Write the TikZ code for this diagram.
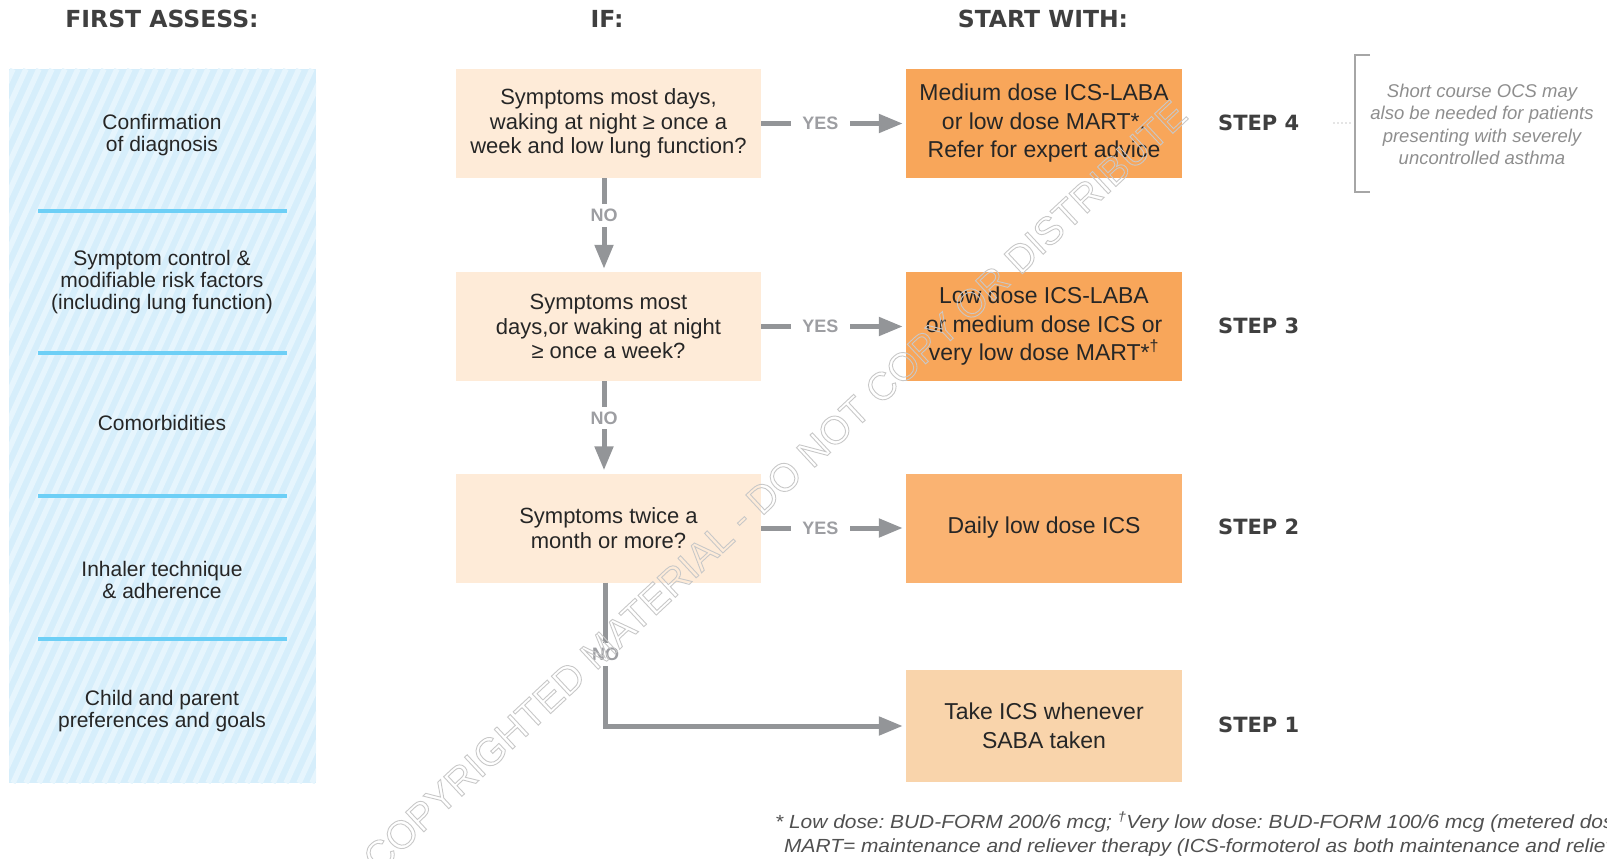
\documentclass[tikz,border=0pt]{standalone}
\usepackage{fontspec}
\setmainfont{Liberation Sans}
\newfontfamily\hdrfont{DejaVu Sans}
\newfontfamily\footfont[FakeStretch=1.1]{Liberation Sans}
\usetikzlibrary{arrows.meta}
\definecolor{qfill}{HTML}{FEEBD8}
\definecolor{sfourfill}{HTML}{F8A65A}
\definecolor{stwofill}{HTML}{FAB372}
\definecolor{sonefill}{HTML}{F9D4AB}
\definecolor{panelbg}{HTML}{D6EEFB}
\definecolor{panelstripe}{HTML}{E6F5FD}
\definecolor{sepblue}{HTML}{6DCFF6}
\definecolor{conngray}{HTML}{939598}
\definecolor{lblgray}{HTML}{9D9EA2}
\definecolor{txt}{HTML}{262626}
\definecolor{hdr}{HTML}{3F3F3F}
\definecolor{notegray}{HTML}{8E8E8E}
\definecolor{footgray}{HTML}{505050}
\definecolor{wmgray}{HTML}{C8C8C8}
\begin{document}
\frenchspacing
\begin{tikzpicture}[x=1pt,y=-1pt,
  header/.style={text=hdr, font=\hdrfont\bfseries\fontsize{23.5}{24}\selectfont, inner sep=0pt},
  steplbl/.style={text=hdr, font=\hdrfont\bfseries\fontsize{21}{22}\selectfont, inner sep=0pt, anchor=west},
  assess/.style={text=txt, align=center, font=\fontsize{21}{22}\selectfont, inner sep=0pt},
  qbox/.style={fill=qfill, text=txt, minimum width=305pt, minimum height=109pt, align=center, inner sep=0pt, font=\fontsize{22}{24.5}\selectfont},
  sbox/.style={text=txt, minimum width=276pt, minimum height=109pt, align=center, inner sep=0pt, font=\fontsize{23}{28.5}\selectfont},
  sep/.style={draw=sepblue, line width=4pt},
  conn/.style={draw=conngray, line width=5pt, -{Triangle[length=24pt,width=18pt]}, shorten >=3pt},
  yn/.style={fill=white, text=lblgray, font=\bfseries\fontsize{18}{18}\selectfont, inner xsep=11pt, inner ysep=5pt},
  note/.style={text=notegray, align=center, font=\itshape\fontsize{18.5}{22.5}\selectfont, inner sep=0pt},
  foot/.style={text=footgray, font=\footfont\itshape\fontsize{19}{20}\selectfont, inner sep=0pt, anchor=base west},
  wm/.style={text=wmgray, font=\fontsize{39}{39}\selectfont, inner sep=0pt}
]
\useasboundingbox (0,0) rectangle (1607,859);
\clip (0,0) rectangle (1607,859);

% headers
\node[header] (h1) at (162,18.5) {FIRST ASSESS:};
\node[header] (h2) at (607,18.5) {IF:};
\node[header] (h3) at (1043,18.5) {START WITH:};

% left panel
\fill[panelbg] (9,69) rectangle (316,783);
\begin{scope}
  \clip (9,69) rectangle (316,783);
  \foreach \i in {-26,...,26}
    \draw[panelstripe, line width=5.5pt] (\i*13,783) -- ++(325,-714);
\end{scope}
\foreach \yy in {211,353,496,639}
  \draw[sep] (38,\yy) -- (287,\yy);
\node[assess] (a1) at (162,135) {Confirmation\\of diagnosis};
\node[assess] (a2) at (162,282) {Symptom control \&\\modifiable risk factors\\(including lung function)};
\node[assess] (a3) at (162,423) {Comorbidities};
\node[assess] (a4) at (162,580) {Inhaler technique\\\& adherence};
\node[assess] (a5) at (162,711) {Child and parent\\preferences and goals};

% question boxes
\node[qbox] (q1) at (608.5,123.5) {Symptoms most days,\\waking at night ≥ once a\\week and low lung function?};
\node[qbox] (q2) at (608.5,326.5) {Symptoms most\\days,or waking at night\\≥ once a week?};
\node[qbox] (q3) at (608.5,528) {Symptoms twice a\\month or more?};

% step boxes
\node[sbox, fill=sfourfill] (s4) at (1044,123.5) {Medium dose ICS-LABA\\or low dose MART*.\\Refer for expert advice};
\node[sbox, fill=sfourfill] (s3) at (1044,326.5) {Low dose ICS-LABA\\or medium dose ICS or\\very low dose MART*\textsuperscript{†}};
\node[sbox, fill=stwofill] (s2) at (1044,528) {Daily low dose ICS};
\node[sbox, fill=sonefill, minimum height=112pt] (s1) at (1044,726) {Take ICS whenever\\SABA taken};

% step labels
\node[steplbl] (t4) at (1218,123) {STEP 4};
\node[steplbl] (t3) at (1218,326) {STEP 3};
\node[steplbl] (t2) at (1218,527) {STEP 2};
\node[steplbl] (t1) at (1218,725) {STEP 1};

% connectors
\draw[conn] (q1.east) -- node[yn, pos=0.41] {YES} (s4.west);
\draw[conn] (q2.east) -- node[yn, pos=0.41] {YES} (s3.west);
\draw[conn] (q3.east) -- node[yn, pos=0.41] {YES} (s2.west);
\draw[conn] ([xshift=-4.5pt]q1.south) -- node[yn, pos=0.4] {NO} ([xshift=-4.5pt]q2.north);
\draw[conn] ([xshift=-4.5pt]q2.south) -- node[yn, pos=0.4] {NO} ([xshift=-4.5pt]q3.north);
\draw[conn] ([xshift=-3pt]q3.south) |- node[yn, pos=0.25] {NO} (s1.west);

% note
\coordinate (br) at (1355,123);
\draw[notegray, line width=1.2pt, line cap=round, dash pattern=on 0pt off 4pt] ([xshift=-21pt]br) -- ([xshift=-3pt]br);
\draw[gray!70, line width=1.3pt] (1370,55) -- (1355,55) -- (1355,192) -- (1370,192);
\node[note] (n1) at (1482,124.5) {Short course OCS may\\also be needed for patients\\presenting with severely\\uncontrolled asthma};

% footnote
\node[foot] (f1) at (775,828) {* Low dose: BUD-FORM 200/6 mcg; \textsuperscript{†}Very low dose: BUD-FORM 100/6 mcg (metered dose)};
\node[foot] (f2) at (784,852) {MART= maintenance and reliever therapy (ICS-formoterol as both maintenance and reliever)};

% watermark
\node[wm, rotate=43] (w) at (775,486) {\special{pdf:literal direct 1 Tr 0.9 w}COPYRIGHTED MATERIAL - DO NOT COPY OR DISTRIBUTE\special{pdf:literal direct 0 Tr}};
\end{tikzpicture}
\end{document}
